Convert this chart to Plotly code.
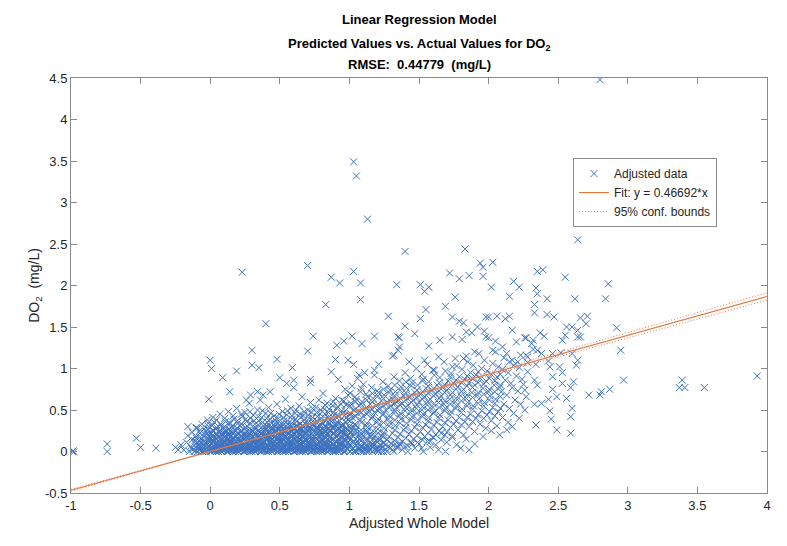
import plotly.graph_objects as go

# ---------------- data ----------------
fit_slope = 0.46692
ci_slope_halfwidth = 0.011
fit_x = [-1.0, 4.0]

x_tick_vals = [-1, -0.5, 0, 0.5, 1, 1.5, 2, 2.5, 3, 3.5, 4]
x_tick_text = ["-1", "-0.5", "0", "0.5", "1", "1.5", "2", "2.5", "3", "3.5", "4"]
y_tick_vals = [-0.5, 0, 0.5, 1, 1.5, 2, 2.5, 3, 3.5, 4, 4.5]
y_tick_text = ["-0.5", "0", "0.5", "1", "1.5", "2", "2.5", "3", "3.5", "4", "4.5"]

tail_pts = [
    (-0.99, 0.0), (-0.985, 0.008), (-0.98, -0.005), (-0.74, 0.09), (-0.74, 0.0),
    (-0.53, 0.16), (-0.50, 0.05), (-0.39, 0.04), (-0.25, 0.05), (-0.23, 0.02),
    (-0.16, 0.30), (-0.10, 0.28), (-0.13, 0.14), (-0.21, 0.08),
]

core_pts = [
    (-0.19, 0.02), (-0.17, 0.11),
    (-0.15, 0.00), (-0.14, 0.06), (-0.16, 0.19),
    (-0.12, 0.03), (-0.11, 0.13), (-0.13, 0.23), (-0.10, 0.29),
    (-0.09, 0.00), (-0.08, 0.08), (-0.10, 0.16), (-0.07, 0.26),
    (-0.06, 0.02), (-0.05, 0.05), (-0.07, 0.11), (-0.04, 0.20), (-0.06, 0.33),
    (-0.03, 0.00), (-0.02, 0.04), (-0.04, 0.09), (-0.01, 0.14), (-0.03, 0.24), (-0.02, 0.38),
    (0.00, 0.00), (0.01, 0.03), (-0.01, 0.07), (0.02, 0.12), (0.00, 0.17), (0.01, 0.22), (-0.01, 0.30), (0.02, 0.41),
    (0.03, 0.01), (0.05, 0.05), (0.04, 0.10), (0.03, 0.15), (0.05, 0.20), (0.04, 0.27), (0.03, 0.35),
    (0.06, 0.00), (0.07, 0.04), (0.06, 0.08), (0.08, 0.13), (0.07, 0.18), (0.06, 0.24), (0.08, 0.31), (0.07, 0.45),
    (0.09, 0.02), (0.10, 0.06), (0.09, 0.11), (0.11, 0.16), (0.10, 0.21), (0.09, 0.28), (0.11, 0.36),
    (0.12, 0.00), (0.13, 0.03), (0.12, 0.08), (0.14, 0.13), (0.13, 0.19), (0.12, 0.25), (0.14, 0.33), (0.13, 0.48),
    (0.15, 0.01), (0.16, 0.05), (0.15, 0.10), (0.17, 0.15), (0.16, 0.22), (0.15, 0.29), (0.17, 0.39),
    (0.18, 0.00), (0.19, 0.04), (0.18, 0.09), (0.20, 0.14), (0.19, 0.20), (0.18, 0.26), (0.20, 0.34), (0.19, 0.52),
    (0.21, 0.02), (0.22, 0.06), (0.21, 0.12), (0.23, 0.17), (0.22, 0.23), (0.21, 0.31), (0.23, 0.42),
    (0.24, 0.00), (0.25, 0.04), (0.24, 0.08), (0.26, 0.14), (0.25, 0.19), (0.24, 0.27), (0.26, 0.36), (0.25, 0.47),
    (0.27, 0.01), (0.28, 0.05), (0.27, 0.11), (0.29, 0.16), (0.28, 0.22), (0.27, 0.30), (0.29, 0.40), (0.28, 0.58),
    (0.30, 0.00), (0.31, 0.03), (0.30, 0.09), (0.32, 0.13), (0.31, 0.18), (0.30, 0.25), (0.32, 0.33), (0.31, 0.44),
    (0.33, 0.02), (0.34, 0.06), (0.33, 0.10), (0.35, 0.15), (0.34, 0.21), (0.33, 0.28), (0.35, 0.37), (0.34, 0.50),
    (0.36, 0.00), (0.37, 0.04), (0.36, 0.08), (0.38, 0.12), (0.37, 0.17), (0.36, 0.24), (0.38, 0.31), (0.37, 0.41), (0.36, 0.62),
    (0.39, 0.01), (0.40, 0.05), (0.39, 0.11), (0.41, 0.16), (0.40, 0.20), (0.39, 0.27), (0.41, 0.35), (0.40, 0.46),
    (0.42, 0.00), (0.43, 0.03), (0.42, 0.07), (0.44, 0.13), (0.43, 0.18), (0.42, 0.23), (0.44, 0.30), (0.43, 0.39), (0.42, 0.53),
    (0.45, 0.02), (0.46, 0.06), (0.45, 0.10), (0.47, 0.15), (0.46, 0.21), (0.45, 0.26), (0.47, 0.34), (0.46, 0.43),
    (0.48, 0.00), (0.49, 0.04), (0.48, 0.09), (0.50, 0.14), (0.49, 0.19), (0.48, 0.25), (0.50, 0.32), (0.49, 0.40), (0.48, 0.57),
    (0.51, 0.01), (0.52, 0.05), (0.51, 0.11), (0.53, 0.17), (0.52, 0.22), (0.51, 0.29), (0.53, 0.37), (0.52, 0.48),
    (0.54, 0.00), (0.55, 0.03), (0.54, 0.08), (0.56, 0.13), (0.55, 0.20), (0.54, 0.26), (0.56, 0.33), (0.55, 0.44), (0.54, 0.63),
    (0.57, 0.02), (0.58, 0.07), (0.57, 0.12), (0.59, 0.18), (0.58, 0.24), (0.57, 0.31), (0.59, 0.39), (0.58, 0.52),
    (0.60, 0.00), (0.61, 0.04), (0.60, 0.10), (0.62, 0.15), (0.61, 0.21), (0.60, 0.28), (0.62, 0.36), (0.61, 0.46),
    (0.63, 0.01), (0.64, 0.06), (0.63, 0.11), (0.65, 0.17), (0.64, 0.23), (0.63, 0.30), (0.65, 0.41), (0.64, 0.55),
    (0.66, 0.00), (0.67, 0.03), (0.66, 0.09), (0.68, 0.14), (0.67, 0.20), (0.66, 0.27), (0.68, 0.34), (0.67, 0.43), (0.66, 0.66),
    (0.69, 0.02), (0.70, 0.07), (0.69, 0.13), (0.71, 0.19), (0.70, 0.25), (0.69, 0.32), (0.71, 0.40), (0.70, 0.50),
    (0.72, 0.00), (0.73, 0.05), (0.72, 0.10), (0.74, 0.16), (0.73, 0.22), (0.72, 0.29), (0.74, 0.37), (0.73, 0.47), (0.72, 0.59),
    (0.75, 0.01), (0.76, 0.06), (0.75, 0.12), (0.77, 0.18), (0.76, 0.24), (0.75, 0.31), (0.77, 0.42), (0.76, 0.53),
    (0.78, 0.00), (0.79, 0.04), (0.78, 0.09), (0.80, 0.15), (0.79, 0.21), (0.78, 0.28), (0.80, 0.35), (0.79, 0.45), (0.78, 0.62),
    (0.81, 0.02), (0.82, 0.08), (0.81, 0.13), (0.83, 0.20), (0.82, 0.26), (0.81, 0.33), (0.83, 0.40), (0.82, 0.51), (0.81, 0.70),
    (0.84, 0.00), (0.85, 0.05), (0.84, 0.11), (0.86, 0.17), (0.85, 0.24), (0.84, 0.30), (0.86, 0.38), (0.85, 0.47), (0.84, 0.58),
    (0.87, 0.03), (0.88, 0.09), (0.87, 0.15), (0.89, 0.22), (0.88, 0.28), (0.87, 0.36), (0.89, 0.44), (0.88, 0.55),
    (0.90, 0.00), (0.91, 0.06), (0.90, 0.12), (0.92, 0.19), (0.91, 0.26), (0.90, 0.34), (0.92, 0.42), (0.91, 0.52), (0.90, 0.64),
    (0.93, 0.02), (0.94, 0.08), (0.93, 0.14), (0.95, 0.21), (0.94, 0.29), (0.93, 0.37), (0.95, 0.46), (0.94, 0.57),
    (0.96, 0.00), (0.97, 0.05), (0.96, 0.11), (0.98, 0.18), (0.97, 0.25), (0.96, 0.32), (0.98, 0.41), (0.97, 0.49), (0.96, 0.61), (0.97, 0.75),
    (0.99, 0.03), (1.00, 0.09), (0.99, 0.16), (1.01, 0.23), (1.00, 0.30), (0.99, 0.38), (1.01, 0.45), (1.00, 0.54), (0.99, 0.68),
]

core_pts_b = [
    (-0.105, 0.01), (-0.105, 0.05), (-0.105, 0.09), (-0.105, 0.19),
    (-0.075, 0.02), (-0.075, 0.06), (-0.075, 0.12), (-0.075, 0.17), (-0.075, 0.22),
    (-0.045, 0.01), (-0.045, 0.04), (-0.045, 0.08), (-0.045, 0.13), (-0.045, 0.18), (-0.045, 0.27),
    (-0.015, 0.02), (-0.015, 0.06), (-0.015, 0.10), (-0.015, 0.16), (-0.015, 0.20), (-0.015, 0.27), (-0.015, 0.34),
    (0.015, 0.01), (0.015, 0.04), (0.015, 0.09), (0.015, 0.14), (0.015, 0.19), (0.015, 0.25), (0.015, 0.31),
    (0.045, 0.02), (0.045, 0.07), (0.045, 0.11), (0.045, 0.16), (0.045, 0.22), (0.045, 0.29), (0.045, 0.38),
    (0.075, 0.01), (0.075, 0.05), (0.075, 0.10), (0.075, 0.15), (0.075, 0.20), (0.075, 0.26), (0.075, 0.33),
    (0.105, 0.03), (0.105, 0.07), (0.105, 0.12), (0.105, 0.18), (0.105, 0.23), (0.105, 0.30), (0.105, 0.40),
    (0.135, 0.01), (0.135, 0.05), (0.135, 0.10), (0.135, 0.15), (0.135, 0.21), (0.135, 0.27), (0.135, 0.35),
    (0.165, 0.02), (0.165, 0.07), (0.165, 0.12), (0.165, 0.17), (0.165, 0.24), (0.165, 0.31), (0.165, 0.43),
    (0.195, 0.01), (0.195, 0.05), (0.195, 0.10), (0.195, 0.16), (0.195, 0.22), (0.195, 0.28), (0.195, 0.37),
    (0.225, 0.03), (0.225, 0.08), (0.225, 0.13), (0.225, 0.19), (0.225, 0.25), (0.225, 0.33), (0.225, 0.45),
    (0.255, 0.01), (0.255, 0.06), (0.255, 0.11), (0.255, 0.17), (0.255, 0.22), (0.255, 0.29), (0.255, 0.39),
    (0.285, 0.02), (0.285, 0.07), (0.285, 0.13), (0.285, 0.19), (0.285, 0.25), (0.285, 0.34), (0.285, 0.48),
    (0.315, 0.01), (0.315, 0.05), (0.315, 0.11), (0.315, 0.16), (0.315, 0.22), (0.315, 0.28), (0.315, 0.37),
    (0.345, 0.03), (0.345, 0.08), (0.345, 0.13), (0.345, 0.18), (0.345, 0.25), (0.345, 0.32), (0.345, 0.42),
    (0.375, 0.01), (0.375, 0.06), (0.375, 0.10), (0.375, 0.15), (0.375, 0.21), (0.375, 0.27), (0.375, 0.35), (0.375, 0.49),
    (0.405, 0.02), (0.405, 0.07), (0.405, 0.13), (0.405, 0.18), (0.405, 0.24), (0.405, 0.31), (0.405, 0.40),
    (0.435, 0.01), (0.435, 0.05), (0.435, 0.10), (0.435, 0.16), (0.435, 0.21), (0.435, 0.27), (0.435, 0.35), (0.435, 0.46),
    (0.465, 0.03), (0.465, 0.08), (0.465, 0.12), (0.465, 0.18), (0.465, 0.24), (0.465, 0.30), (0.465, 0.38),
    (0.495, 0.01), (0.495, 0.06), (0.495, 0.11), (0.495, 0.16), (0.495, 0.22), (0.495, 0.28), (0.495, 0.36), (0.495, 0.45),
    (0.525, 0.02), (0.525, 0.07), (0.525, 0.13), (0.525, 0.19), (0.525, 0.25), (0.525, 0.32), (0.525, 0.41),
    (0.555, 0.01), (0.555, 0.05), (0.555, 0.10), (0.555, 0.16), (0.555, 0.22), (0.555, 0.29), (0.555, 0.37), (0.555, 0.49),
    (0.585, 0.03), (0.585, 0.08), (0.585, 0.14), (0.585, 0.20), (0.585, 0.27), (0.585, 0.34), (0.585, 0.43),
    (0.615, 0.01), (0.615, 0.06), (0.615, 0.12), (0.615, 0.18), (0.615, 0.24), (0.615, 0.31), (0.615, 0.39), (0.615, 0.50),
    (0.645, 0.02), (0.645, 0.08), (0.645, 0.14), (0.645, 0.20), (0.645, 0.26), (0.645, 0.33), (0.645, 0.45),
    (0.675, 0.01), (0.675, 0.05), (0.675, 0.11), (0.675, 0.17), (0.675, 0.23), (0.675, 0.30), (0.675, 0.38), (0.675, 0.48),
    (0.705, 0.03), (0.705, 0.09), (0.705, 0.15), (0.705, 0.21), (0.705, 0.28), (0.705, 0.35), (0.705, 0.44),
    (0.735, 0.01), (0.735, 0.07), (0.735, 0.13), (0.735, 0.19), (0.735, 0.26), (0.735, 0.33), (0.735, 0.41), (0.735, 0.52),
    (0.765, 0.02), (0.765, 0.08), (0.765, 0.15), (0.765, 0.22), (0.765, 0.29), (0.765, 0.37), (0.765, 0.47),
    (0.795, 0.01), (0.795, 0.06), (0.795, 0.12), (0.795, 0.18), (0.795, 0.25), (0.795, 0.32), (0.795, 0.40), (0.795, 0.50),
    (0.825, 0.03), (0.825, 0.09), (0.825, 0.16), (0.825, 0.23), (0.825, 0.30), (0.825, 0.37), (0.825, 0.45), (0.825, 0.56),
    (0.855, 0.01), (0.855, 0.07), (0.855, 0.13), (0.855, 0.20), (0.855, 0.27), (0.855, 0.34), (0.855, 0.42), (0.855, 0.51),
    (0.885, 0.02), (0.885, 0.08), (0.885, 0.15), (0.885, 0.22), (0.885, 0.30), (0.885, 0.38), (0.885, 0.47), (0.885, 0.60),
    (0.915, 0.01), (0.915, 0.06), (0.915, 0.13), (0.915, 0.20), (0.915, 0.27), (0.915, 0.35), (0.915, 0.44), (0.915, 0.54),
    (0.945, 0.03), (0.945, 0.09), (0.945, 0.16), (0.945, 0.24), (0.945, 0.32), (0.945, 0.40), (0.945, 0.49), (0.945, 0.62),
    (0.975, 0.01), (0.975, 0.07), (0.975, 0.14), (0.975, 0.21), (0.975, 0.28), (0.975, 0.36), (0.975, 0.45), (0.975, 0.56),
]

core_pts_c = [
    (-0.135, 0.04), (-0.115, 0.00), (-0.095, 0.11), (-0.085, 0.03), (-0.065, 0.15), (-0.055, 0.00), (-0.035, 0.11), (-0.025, 0.21),
    (0.005, 0.00), (0.005, 0.04), (0.005, 0.09), (0.005, 0.15), (0.005, 0.21),
    (0.025, 0.02), (0.025, 0.065), (0.025, 0.11), (0.025, 0.18), (0.025, 0.25),
    (0.045, 0.00), (0.045, 0.04), (0.045, 0.09), (0.045, 0.15), (0.045, 0.21),
    (0.065, 0.02), (0.065, 0.065), (0.065, 0.11), (0.065, 0.18), (0.065, 0.25),
    (0.085, 0.00), (0.085, 0.04), (0.085, 0.09), (0.085, 0.15), (0.085, 0.21),
    (0.105, 0.02), (0.105, 0.065), (0.105, 0.11), (0.105, 0.18), (0.105, 0.25),
    (0.125, 0.00), (0.125, 0.04), (0.125, 0.09), (0.125, 0.15), (0.125, 0.21),
    (0.145, 0.02), (0.145, 0.065), (0.145, 0.11), (0.145, 0.18), (0.145, 0.25),
    (0.165, 0.00), (0.165, 0.04), (0.165, 0.09), (0.165, 0.15), (0.165, 0.21),
    (0.185, 0.02), (0.185, 0.065), (0.185, 0.11), (0.185, 0.18), (0.185, 0.25),
    (0.205, 0.00), (0.205, 0.04), (0.205, 0.09), (0.205, 0.15), (0.205, 0.21),
    (0.225, 0.02), (0.225, 0.065), (0.225, 0.11), (0.225, 0.18), (0.225, 0.25),
    (0.245, 0.00), (0.245, 0.04), (0.245, 0.09), (0.245, 0.15), (0.245, 0.21),
    (0.265, 0.02), (0.265, 0.065), (0.265, 0.11), (0.265, 0.18), (0.265, 0.25),
    (0.285, 0.00), (0.285, 0.04), (0.285, 0.09), (0.285, 0.15), (0.285, 0.21),
    (0.305, 0.02), (0.305, 0.065), (0.305, 0.11), (0.305, 0.18), (0.305, 0.25),
    (0.325, 0.00), (0.325, 0.04), (0.325, 0.09), (0.325, 0.15), (0.325, 0.21),
    (0.345, 0.02), (0.345, 0.065), (0.345, 0.11), (0.345, 0.18), (0.345, 0.25),
    (0.365, 0.00), (0.365, 0.04), (0.365, 0.09), (0.365, 0.15), (0.365, 0.21),
    (0.385, 0.02), (0.385, 0.065), (0.385, 0.11), (0.385, 0.18), (0.385, 0.25),
    (0.405, 0.00), (0.405, 0.04), (0.405, 0.09), (0.405, 0.15), (0.405, 0.21), (0.405, 0.27),
    (0.425, 0.02), (0.425, 0.065), (0.425, 0.11), (0.425, 0.18), (0.425, 0.25), (0.425, 0.31),
    (0.445, 0.00), (0.445, 0.04), (0.445, 0.09), (0.445, 0.15), (0.445, 0.21), (0.445, 0.27),
    (0.465, 0.02), (0.465, 0.065), (0.465, 0.11), (0.465, 0.18), (0.465, 0.25), (0.465, 0.31),
    (0.485, 0.00), (0.485, 0.04), (0.485, 0.09), (0.485, 0.15), (0.485, 0.21), (0.485, 0.27),
    (0.505, 0.02), (0.505, 0.065), (0.505, 0.11), (0.505, 0.18), (0.505, 0.25), (0.505, 0.31),
    (0.525, 0.00), (0.525, 0.04), (0.525, 0.09), (0.525, 0.15), (0.525, 0.21), (0.525, 0.27),
    (0.545, 0.02), (0.545, 0.065), (0.545, 0.11), (0.545, 0.18), (0.545, 0.25), (0.545, 0.31),
    (0.565, 0.00), (0.565, 0.04), (0.565, 0.09), (0.565, 0.15), (0.565, 0.21), (0.565, 0.27),
    (0.585, 0.02), (0.585, 0.065), (0.585, 0.11), (0.585, 0.18), (0.585, 0.25), (0.585, 0.31),
    (0.605, 0.00), (0.605, 0.04), (0.605, 0.09), (0.605, 0.15), (0.605, 0.21), (0.605, 0.27),
    (0.625, 0.02), (0.625, 0.065), (0.625, 0.11), (0.625, 0.18), (0.625, 0.25), (0.625, 0.31),
    (0.645, 0.00), (0.645, 0.04), (0.645, 0.09), (0.645, 0.15), (0.645, 0.21), (0.645, 0.27),
    (0.665, 0.02), (0.665, 0.065), (0.665, 0.11), (0.665, 0.18), (0.665, 0.25), (0.665, 0.31),
    (0.685, 0.00), (0.685, 0.04), (0.685, 0.09), (0.685, 0.15), (0.685, 0.21), (0.685, 0.27),
    (0.705, 0.02), (0.705, 0.065), (0.705, 0.11), (0.705, 0.18), (0.705, 0.25), (0.705, 0.31),
    (0.725, 0.00), (0.725, 0.04), (0.725, 0.09), (0.725, 0.15), (0.725, 0.21), (0.725, 0.27),
    (0.745, 0.02), (0.745, 0.065), (0.745, 0.11), (0.745, 0.18), (0.745, 0.25), (0.745, 0.31),
    (0.765, 0.00), (0.765, 0.04), (0.765, 0.09), (0.765, 0.15), (0.765, 0.21), (0.765, 0.27),
    (0.785, 0.02), (0.785, 0.065), (0.785, 0.11), (0.785, 0.18), (0.785, 0.25), (0.785, 0.31),
    (0.805, 0.00), (0.805, 0.04), (0.805, 0.09), (0.805, 0.15), (0.805, 0.21), (0.805, 0.27),
    (0.825, 0.02), (0.825, 0.065), (0.825, 0.11), (0.825, 0.18), (0.825, 0.25), (0.825, 0.31),
    (0.845, 0.00), (0.845, 0.04), (0.845, 0.09), (0.845, 0.15), (0.845, 0.21), (0.845, 0.27),
    (0.865, 0.02), (0.865, 0.065), (0.865, 0.11), (0.865, 0.18), (0.865, 0.25), (0.865, 0.31),
    (0.885, 0.00), (0.885, 0.04), (0.885, 0.09), (0.885, 0.15), (0.885, 0.21), (0.885, 0.27),
    (0.905, 0.02), (0.905, 0.065), (0.905, 0.11), (0.905, 0.18), (0.905, 0.25), (0.905, 0.31),
    (0.925, 0.00), (0.925, 0.04), (0.925, 0.09), (0.925, 0.15), (0.925, 0.21), (0.925, 0.27),
    (0.945, 0.02), (0.945, 0.065), (0.945, 0.11), (0.945, 0.18), (0.945, 0.25), (0.945, 0.31),
]

core_pts_d = [
    (0.965, 0.00), (0.965, 0.06), (0.965, 0.13), (0.965, 0.22),
    (0.985, 0.03), (0.985, 0.10), (0.985, 0.18), (0.985, 0.27),
    (1.005, 0.00), (1.005, 0.08), (1.005, 0.14), (1.005, 0.23),
    (1.025, 0.04), (1.025, 0.11), (1.025, 0.19), (1.025, 0.29),
    (1.045, 0.00), (1.045, 0.07), (1.045, 0.15), (1.045, 0.25),
    (1.065, 0.02), (1.065, 0.10), (1.065, 0.20),
    (1.085, 0.00), (1.085, 0.05), (1.085, 0.13), (1.085, 0.22),
    (1.105, 0.03), (1.105, 0.09), (1.105, 0.17),
    (1.125, 0.00), (1.125, 0.06), (1.125, 0.15), (1.125, 0.25),
    (1.145, 0.02), (1.145, 0.11), (1.145, 0.20),
    (1.165, 0.00), (1.165, 0.05), (1.165, 0.14),
    (1.185, 0.03), (1.185, 0.09), (1.185, 0.19),
    (1.205, 0.01), (1.205, 0.12), (1.205, 0.22),
    (1.225, 0.04), (1.225, 0.15),
    (1.245, 0.00), (1.245, 0.10), (1.245, 0.20),
]

mid_pts = [
    (1.02, 0.02), (1.03, 0.12), (1.01, 0.24), (1.04, 0.33), (1.02, 0.41), (1.03, 0.50), (1.01, 0.58), (1.04, 0.66), (1.02, 0.79),
    (1.06, 0.05), (1.07, 0.15), (1.05, 0.27), (1.08, 0.38), (1.06, 0.46), (1.07, 0.55), (1.05, 0.63), (1.08, 0.72), (1.06, 0.88),
    (1.10, 0.00), (1.11, 0.10), (1.09, 0.21), (1.12, 0.31), (1.10, 0.43), (1.11, 0.51), (1.09, 0.60), (1.12, 0.69), (1.10, 0.81),
    (1.14, 0.06), (1.15, 0.18), (1.13, 0.29), (1.16, 0.40), (1.14, 0.49), (1.15, 0.57), (1.13, 0.66), (1.16, 0.77),
    (1.18, 0.02), (1.19, 0.13), (1.17, 0.25), (1.20, 0.36), (1.18, 0.47), (1.19, 0.55), (1.17, 0.64), (1.20, 0.73), (1.18, 0.92),
    (1.22, 0.08), (1.23, 0.19), (1.21, 0.32), (1.24, 0.44), (1.22, 0.52), (1.23, 0.61), (1.21, 0.71), (1.24, 0.84),
    (1.26, 0.03), (1.27, 0.14), (1.25, 0.28), (1.28, 0.39), (1.26, 0.50), (1.27, 0.58), (1.25, 0.68), (1.28, 0.79),
    (1.30, 0.10), (1.31, 0.22), (1.29, 0.35), (1.32, 0.46), (1.30, 0.55), (1.31, 0.63), (1.29, 0.74), (1.32, 0.90),
    (1.34, 0.05), (1.35, 0.17), (1.33, 0.31), (1.36, 0.43), (1.34, 0.53), (1.35, 0.61), (1.33, 0.72), (1.36, 0.85),
    (1.38, 0.12), (1.39, 0.26), (1.37, 0.39), (1.40, 0.49), (1.38, 0.58), (1.39, 0.67), (1.37, 0.78), (1.40, 0.95),
    (1.42, 0.07), (1.43, 0.21), (1.41, 0.34), (1.44, 0.47), (1.42, 0.56), (1.43, 0.65), (1.41, 0.76), (1.44, 0.88),
    (1.46, 0.15), (1.47, 0.29), (1.45, 0.42), (1.48, 0.52), (1.46, 0.62), (1.47, 0.71), (1.45, 0.83), (1.48, 1.00),
    (1.50, 0.09), (1.51, 0.24), (1.49, 0.38), (1.52, 0.50), (1.50, 0.60), (1.51, 0.69), (1.49, 0.80), (1.52, 0.93),
    (1.54, 0.18), (1.55, 0.32), (1.53, 0.45), (1.56, 0.56), (1.54, 0.66), (1.55, 0.76), (1.53, 0.87), (1.56, 1.05),
    (1.58, 0.12), (1.59, 0.27), (1.57, 0.41), (1.60, 0.53), (1.58, 0.63), (1.59, 0.73), (1.57, 0.84), (1.60, 0.98),
    (1.62, 0.20), (1.63, 0.35), (1.61, 0.48), (1.64, 0.59), (1.62, 0.70), (1.63, 0.80), (1.61, 0.92),
    (1.66, 0.14), (1.67, 0.30), (1.65, 0.44), (1.68, 0.57), (1.66, 0.67), (1.67, 0.77), (1.65, 0.89), (1.68, 1.08),
    (1.70, 0.23), (1.71, 0.38), (1.69, 0.52), (1.72, 0.63), (1.70, 0.74), (1.71, 0.85), (1.69, 0.97),
    (1.74, 0.17), (1.75, 0.33), (1.73, 0.48), (1.76, 0.60), (1.74, 0.71), (1.75, 0.82), (1.73, 0.94), (1.76, 1.12),
    (1.78, 0.26), (1.79, 0.41), (1.77, 0.55), (1.80, 0.67), (1.78, 0.78), (1.79, 0.90), (1.77, 1.03),
    (1.82, 0.20), (1.83, 0.36), (1.81, 0.51), (1.84, 0.64), (1.82, 0.75), (1.83, 0.87), (1.81, 0.99), (1.84, 1.15),
    (1.86, 0.30), (1.87, 0.45), (1.85, 0.59), (1.88, 0.71), (1.86, 0.83), (1.87, 0.95), (1.85, 1.08),
    (1.90, 0.24), (1.91, 0.40), (1.89, 0.55), (1.92, 0.68), (1.90, 0.80), (1.91, 0.92), (1.89, 1.04),
    (1.94, 0.33), (1.95, 0.49), (1.93, 0.63), (1.96, 0.76), (1.94, 0.88), (1.95, 1.00), (1.93, 1.18),
    (1.98, 0.28), (1.99, 0.44), (1.97, 0.59), (2.00, 0.72), (1.98, 0.85), (1.99, 0.97), (1.97, 1.10),
    (2.02, 0.37), (2.03, 0.53), (2.01, 0.67), (2.04, 0.80), (2.02, 0.93), (2.03, 1.06),
    (2.06, 0.31), (2.07, 0.48), (2.05, 0.63), (2.08, 0.77), (2.06, 0.90), (2.07, 1.02), (2.05, 1.20),
    (2.10, 0.41), (2.11, 0.57), (2.09, 0.72), (2.12, 0.86), (2.10, 0.99), (2.11, 1.13),
    (2.14, 0.35), (2.15, 0.52), (2.13, 0.68), (2.16, 0.82), (2.14, 0.95), (2.15, 1.08),
    (2.18, 0.46), (2.19, 0.62), (2.17, 0.77), (2.20, 0.91), (2.18, 1.04),
    (2.22, 0.40), (2.23, 0.57), (2.21, 0.73), (2.24, 0.87), (2.22, 1.01), (2.23, 1.16),
    (2.26, 0.50), (2.27, 0.66), (2.25, 0.81), (2.28, 0.96),
]

mid_pts_b = [
    (1.005, 0.06), (1.005, 0.17), (1.005, 0.28), (1.005, 0.37), (1.005, 0.46), (1.005, 0.55), (1.005, 0.70),
    (1.045, 0.01), (1.045, 0.10), (1.045, 0.21), (1.045, 0.31), (1.045, 0.42), (1.045, 0.51), (1.045, 0.60),
    (1.085, 0.07), (1.085, 0.16), (1.085, 0.26), (1.085, 0.35), (1.085, 0.47), (1.085, 0.57), (1.085, 0.76),
    (1.125, 0.02), (1.125, 0.12), (1.125, 0.23), (1.125, 0.34), (1.125, 0.45), (1.125, 0.53), (1.125, 0.62),
    (1.165, 0.09), (1.165, 0.20), (1.165, 0.31), (1.165, 0.42), (1.165, 0.51), (1.165, 0.60), (1.165, 0.70),
    (1.205, 0.04), (1.205, 0.15), (1.205, 0.27), (1.205, 0.39), (1.205, 0.49), (1.205, 0.57), (1.205, 0.67),
    (1.245, 0.11), (1.245, 0.23), (1.245, 0.35), (1.245, 0.46), (1.245, 0.55), (1.245, 0.64), (1.245, 0.75),
    (1.285, 0.06), (1.285, 0.18), (1.285, 0.31), (1.285, 0.43), (1.285, 0.53), (1.285, 0.62), (1.285, 0.71),
    (1.325, 0.13), (1.325, 0.26), (1.325, 0.38), (1.325, 0.49), (1.325, 0.58), (1.325, 0.67), (1.325, 0.80),
    (1.365, 0.08), (1.365, 0.21), (1.365, 0.34), (1.365, 0.46), (1.365, 0.56), (1.365, 0.64), (1.365, 0.74),
    (1.405, 0.16), (1.405, 0.29), (1.405, 0.42), (1.405, 0.53), (1.405, 0.62), (1.405, 0.71), (1.405, 0.84),
    (1.445, 0.11), (1.445, 0.25), (1.445, 0.38), (1.445, 0.50), (1.445, 0.59), (1.445, 0.68), (1.445, 0.79),
    (1.485, 0.19), (1.485, 0.33), (1.485, 0.46), (1.485, 0.56), (1.485, 0.65), (1.485, 0.74),
    (1.525, 0.14), (1.525, 0.29), (1.525, 0.42), (1.525, 0.54), (1.525, 0.63), (1.525, 0.72), (1.525, 0.85),
    (1.565, 0.22), (1.565, 0.37), (1.565, 0.50), (1.565, 0.60), (1.565, 0.70), (1.565, 0.79),
    (1.605, 0.17), (1.605, 0.32), (1.605, 0.46), (1.605, 0.57), (1.605, 0.67), (1.605, 0.76),
    (1.645, 0.25), (1.645, 0.40), (1.645, 0.53), (1.645, 0.64), (1.645, 0.73), (1.645, 0.83),
    (1.685, 0.20), (1.685, 0.35), (1.685, 0.49), (1.685, 0.61), (1.685, 0.71), (1.685, 0.80),
    (1.725, 0.29), (1.725, 0.44), (1.725, 0.57), (1.725, 0.68), (1.725, 0.78), (1.725, 0.90),
    (1.765, 0.37), (1.765, 0.52), (1.765, 0.64), (1.765, 0.75), (1.765, 0.86),
    (1.805, 0.32), (1.805, 0.47), (1.805, 0.61), (1.805, 0.72), (1.805, 0.83),
    (1.845, 0.41), (1.845, 0.55), (1.845, 0.68), (1.845, 0.79), (1.845, 0.91),
    (1.885, 0.36), (1.885, 0.51), (1.885, 0.65), (1.885, 0.77), (1.885, 0.88),
    (1.925, 0.44), (1.925, 0.58), (1.925, 0.71), (1.925, 0.83), (1.925, 0.96),
    (1.965, 0.40), (1.965, 0.55), (1.965, 0.69), (1.965, 0.81),
    (2.005, 0.48), (2.005, 0.62), (2.005, 0.75), (2.005, 0.88),
    (2.045, 0.43), (2.045, 0.58), (2.045, 0.72), (2.045, 0.85),
    (2.085, 0.52), (2.085, 0.66), (2.085, 0.80), (2.085, 0.93),
]

low_pts = [
    (1.27, 0.00), (1.33, 0.09), (1.36, 0.10), (1.40, 0.06), (1.45, 0.09), (1.49, 0.11),
    (1.52, 0.04), (1.56, 0.12), (1.60, 0.17), (1.62, 0.08), (1.66, 0.22), (1.70, 0.11),
    (1.74, 0.19), (1.80, 0.04), (1.84, 0.15), (1.90, 0.09), (1.96, 0.18), (2.02, 0.25),
    (2.08, 0.20), (2.13, 0.26), (2.17, 0.30), (1.15, 0.03), (1.21, 0.00), (1.24, 0.05),
    (1.08, 0.02), (1.12, 0.04), (1.31, 0.02),
    (1.03, 0.00), (1.07, 0.03), (1.11, 0.06), (1.14, 0.00), (1.17, 0.09), (1.20, 0.02),
    (1.23, 0.00), (1.26, 0.08), (1.29, 0.04), (1.32, 0.00), (1.35, 0.05), (1.38, 0.02),
    (1.42, 0.00), (1.47, 0.04), (1.53, 0.00), (1.58, 0.05), (1.64, 0.02), (1.69, 0.00),
    (1.77, 0.08), (1.86, 0.02),
]

upper_pts = [
    (1.03, 3.49), (1.05, 3.32), (1.13, 2.80), (0.23, 2.16), (0.70, 2.24), (0.87, 2.10),
    (0.93, 2.03), (1.03, 2.17), (1.08, 2.03), (1.34, 2.01), (0.83, 1.77), (1.08, 1.83),
    (1.28, 1.63), (0.40, 1.54), (1.40, 2.41), (1.83, 2.44), (1.94, 2.27), (2.03, 2.28),
    (1.96, 2.22), (1.72, 2.15), (1.79, 2.08), (1.86, 2.12), (1.96, 2.11), (2.02, 1.98),
    (2.18, 2.05), (2.22, 1.98), (2.35, 2.17), (2.39, 2.19), (2.55, 2.10), (2.64, 2.55),
    (1.51, 2.01), (1.54, 1.93), (1.57, 1.98), (1.76, 1.86), (1.69, 1.75), (1.55, 1.71),
    (1.51, 1.60), (1.40, 1.51), (2.34, 1.97), (2.35, 1.90), (2.42, 1.84), (2.33, 1.77),
    (2.33, 1.67), (2.42, 1.65), (2.47, 1.62), (2.15, 1.87), (2.62, 1.84), (2.66, 1.61),
    (2.71, 1.63), (2.00, 1.62), (2.06, 1.63), (2.12, 1.60), (2.15, 1.63), (1.74, 1.62),
    (1.79, 1.57), (1.82, 1.55),
    (2.86, 2.02), (2.84, 1.84), (2.92, 1.49), (2.95, 1.22), (2.97, 0.86), (2.87, 0.75),
    (2.81, 0.72), (2.80, 0.68), (2.72, 0.68), (3.39, 0.86), (3.37, 0.77), (3.41, 0.77),
    (3.55, 0.77), (3.93, 0.91), (2.80, 4.48),
    (2.70, 1.54), (2.56, 1.50), (2.60, 1.50), (2.64, 1.46), (2.26, 1.37), (2.32, 1.34),
    (2.37, 1.43), (2.40, 1.39), (2.55, 1.40), (2.53, 1.34), (2.64, 1.38), (2.66, 1.38),
    (2.32, 1.23), (2.38, 1.18), (2.46, 1.18), (2.52, 1.19), (2.60, 1.18), (2.28, 1.14),
    (2.28, 1.07), (2.34, 1.05), (2.43, 1.09), (2.44, 1.02), (2.51, 1.02), (2.64, 1.10),
    (2.63, 1.04), (2.53, 0.95), (2.46, 0.90), (2.33, 0.86), (2.35, 0.80), (2.26, 0.74),
    (2.46, 0.75), (2.53, 0.82), (2.61, 0.84), (2.59, 0.77), (2.49, 0.66), (2.43, 0.63),
    (2.56, 0.64), (2.33, 0.57), (2.38, 0.58), (2.44, 0.49), (2.60, 0.52), (2.45, 0.39),
    (2.59, 0.42), (2.34, 0.32), (2.49, 0.26), (2.59, 0.22),
    (1.35, 1.38), (1.57, 1.27), (1.65, 1.34), (1.74, 1.38), (1.81, 1.35), (1.88, 1.43),
    (1.97, 1.45), (1.98, 1.38), (1.84, 1.44), (1.92, 1.50), (1.98, 1.62), (2.17, 1.46),
    (1.47, 1.42), (1.32, 1.16), (1.35, 1.22), (1.43, 1.08), (1.54, 1.10), (1.61, 0.98),
    (1.64, 1.14), (1.74, 1.02), (1.82, 1.12), (1.90, 1.20), (2.03, 1.22), (2.10, 1.26),
    (2.13, 1.18), (2.17, 1.10), (2.21, 1.08), (2.27, 1.16), (2.35, 1.22), (2.05, 1.33),
    (2.20, 1.32), (2.27, 1.37), (2.31, 1.30), (2.00, 1.37),
    (0.74, 1.39), (1.18, 1.39), (1.36, 1.37), (1.02, 1.39), (0.96, 1.33), (0.91, 1.28),
    (1.09, 1.30), (0.70, 1.21), (1.36, 1.26), (1.31, 1.15), (0.90, 1.11), (0.99, 1.10),
    (1.03, 1.05), (1.21, 1.05), (1.11, 0.95), (0.87, 0.96), (0.72, 0.87), (0.72, 0.83),
    (0.92, 0.87), (0.60, 0.77), (1.18, 0.98), (1.07, 0.92),
    (-0.01, 0.63), (0.00, 1.10), (0.01, 1.00), (0.09, 0.89), (0.19, 0.97), (0.30, 1.22),
    (0.30, 1.04), (0.35, 1.01), (0.48, 1.11), (0.50, 0.89), (0.59, 1.01), (0.60, 0.86),
    (0.55, 0.82), (0.14, 0.72), (0.29, 0.68), (0.43, 0.72), (0.26, 0.62), (0.34, 0.72),
    (0.38, 0.68),
]

# ---------------- build traces ----------------
all_pts = (tail_pts + core_pts + core_pts_b + core_pts_c + core_pts_d
           + mid_pts + mid_pts_b + low_pts + upper_pts)
adj_x = [p[0] for p in all_pts]
do2_y = [p[1] for p in all_pts]

fit_y = [fit_slope * v for v in fit_x]
hi = fit_slope + ci_slope_halfwidth
lo = fit_slope - ci_slope_halfwidth
ci_x = [fit_x[0], fit_x[1], None, fit_x[0], fit_x[1]]
ci_y = [hi * fit_x[0], hi * fit_x[1], None, lo * fit_x[0], lo * fit_x[1]]

BLUE = "#3d72c0"
ORANGE = "#E07A45"
AXIS = "#8a8a8a"
TXT = "#262626"
FONT = "Liberation Sans, Arial, sans-serif"

fig = go.Figure()
fig.add_trace(go.Scatter(
    x=adj_x, y=do2_y, mode="markers", name="Adjusted data",
    marker=dict(symbol="x-thin", size=7, color=BLUE, line=dict(color=BLUE, width=1)),
))
fig.add_trace(go.Scatter(
    x=fit_x, y=fit_y, mode="lines", name="Fit: y = 0.46692*x",
    line=dict(color=ORANGE, width=1.2),
))
fig.add_trace(go.Scatter(
    x=ci_x, y=ci_y, mode="lines", name="95% conf. bounds",
    line=dict(color=ORANGE, width=1, dash="1px,2px"), connectgaps=False,
))

axis_common = dict(
    ticks="inside", ticklen=6, tickcolor=AXIS, tickwidth=1,
    showline=True, linecolor=AXIS, linewidth=1, mirror="ticks",
    showgrid=False, zeroline=False,
    tickfont=dict(family=FONT, size=13, color=TXT),
)

fig.update_layout(
    width=787, height=546,
    margin=dict(l=71, r=20, t=78, b=53),
    paper_bgcolor="white", plot_bgcolor="white",
    font=dict(family=FONT, color=TXT),
    xaxis=dict(range=[-1, 4], tickvals=x_tick_vals, ticktext=x_tick_text,
               title=dict(text="Adjusted Whole Model", font=dict(family=FONT, size=14, color=TXT), standoff=6),
               **axis_common),
    yaxis=dict(range=[-0.5, 4.5], tickvals=y_tick_vals, ticktext=y_tick_text,
               title=dict(text="DO<sub>2</sub>  (mg/L)", font=dict(family=FONT, size=14, color=TXT), standoff=2),
               **axis_common),
    legend=dict(x=0.7213, y=0.807, xanchor="left", yanchor="top",
                bgcolor="white", bordercolor=AXIS, borderwidth=1,
                font=dict(family=FONT, size=12, color=TXT), tracegroupgap=0),
    showlegend=True,
)

title_lines = [
    ("<b>Linear Regression Model</b>", 1.1398),
    ("<b>Predicted Values vs. Actual Values for DO<sub>2</sub></b>", 1.0819),
    ("<b>RMSE:  0.44779  (mg/L)</b>", 1.0337),
]
for txt, yy in title_lines:
    fig.add_annotation(text=txt, x=0.5, y=yy, xref="paper", yref="paper",
                       xanchor="center", yanchor="middle", showarrow=False,
                       font=dict(family=FONT, size=13, color="#000000"))

fig.write_html("out.html")
